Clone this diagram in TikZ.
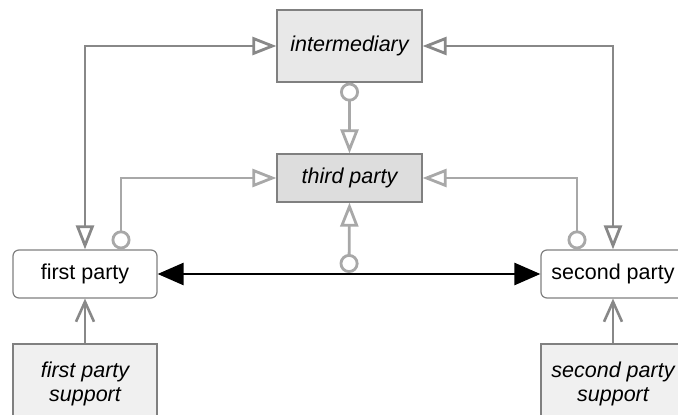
\documentclass[tikz,border=0pt]{standalone}
\usepackage{fontspec}
\setmainfont{Liberation Sans}
\usetikzlibrary{arrows.meta}
\definecolor{edgegray}{HTML}{808080}
\definecolor{darkline}{HTML}{888888}
\definecolor{lightline}{HTML}{A8A8A8}
\definecolor{imfill}{HTML}{E8E8E8}
\definecolor{tpfill}{HTML}{DDDDDD}
\definecolor{supfill}{HTML}{F0F0F0}

\begin{document}
\begin{tikzpicture}[x=1pt, y=1pt,
                    font=\fontsize{21.5}{24}\selectfont,
                    agent/.style={draw=edgegray, line width=1.2pt, inner sep=0pt,
                      minimum width=144pt, align=center},
                    party/.style={agent, rounded corners=6pt, fill=white, minimum height=48pt},
                    helper/.style={agent, fill=supfill, minimum height=80pt, font=\fontsize{21.5}{23.5}\selectfont\itshape},
                    link/.style={line width=2.8pt},
                    opentip/.tip={Triangle[open, fill=white, length=24pt, width=18pt]},
                    ring/.tip={Circle[open, fill=white, length=19pt]},
                    vee/.tip={Straight Barb[length=20pt, width=18pt, line width=2.6pt]},
                    solidtip/.tip={Triangle[length=26pt, width=22pt]}]
    \useasboundingbox (0,0) rectangle (678,415);
    \node[agent, fill=imfill, minimum width=145pt, minimum height=72pt,
          font=\fontsize{21.5}{24}\selectfont\itshape] (im) at (349.5,369) {intermediary};
    \node[agent, fill=tpfill, minimum width=145pt, minimum height=48pt,
          font=\fontsize{21.5}{24}\selectfont\itshape] (tp) at (349.5,237) {third party};
    \node[party] (fp) at (85,141) {first party};
    \node[party] (sp) at (613,141) {second party};
    \node[helper] (fps) at (85,31) {first party\\support};
    \node[helper] (sps) at (613,31) {second party\\support};
    % deal between the two parties
    \draw[black, line width=2.6pt, solidtip-solidtip] (fp) -- (sp)
      coordinate[pos=0.5] (deal);
    % intermediary links
    \draw[darkline, link, opentip-opentip] (im.west) -| (fp.north);
    \draw[darkline, link, opentip-opentip] (im.east) -| (sp.north);
    % third party links
    \draw[lightline, link, ring-opentip] (im.south) -- (tp.north);
    \draw[lightline, link, opentip-ring] (tp.west) -| ([xshift=36pt]fp.north);
    \draw[lightline, link, opentip-ring] (tp.east) -| ([xshift=-36pt]sp.north);
    \draw[lightline, link, opentip-ring] (tp.south) -- ([yshift=1pt]deal);
    % support
    \draw[darkline, link, -vee] (fps) -- (fp);
    \draw[darkline, link, -vee] (sps) -- (sp);
\end{tikzpicture}
\end{document}
